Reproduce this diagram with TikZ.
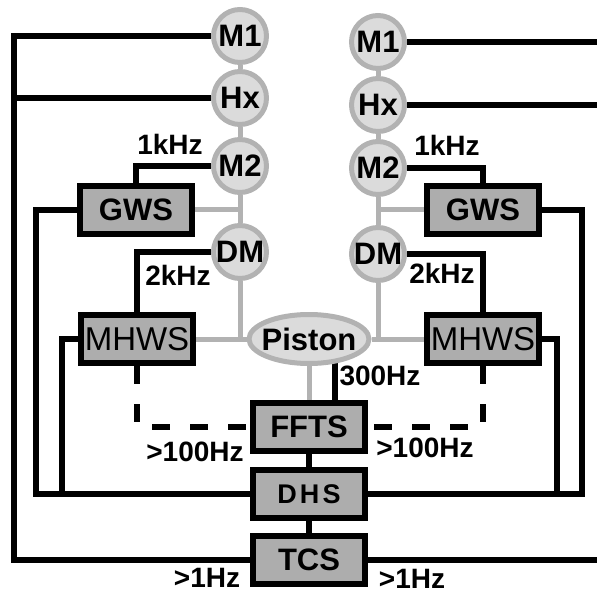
\documentclass[tikz,border=0pt]{standalone}
\usepackage{fontspec}
\setmainfont{Liberation Sans}
\usetikzlibrary{positioning,backgrounds,shapes.geometric}
\definecolor{optline}{gray}{0.70}
\definecolor{optfill}{gray}{0.86}
\definecolor{boxfill}{gray}{0.68}
\tikzset{
  optnode/.style={circle, draw=optline, line width=2.5pt, fill=optfill,
    minimum size=26.5pt, inner sep=0pt, font=\fontsize{15.5}{18}\selectfont\bfseries},
  pistnode/.style={ellipse, draw=optline, line width=2.5pt, fill=optfill,
    minimum width=60pt, minimum height=24.5pt, inner xsep=-5pt, inner ysep=0pt,
    font=\fontsize{15.5}{18}\selectfont\bfseries},
  ctrlbox/.style={draw, line width=3.2pt, fill=boxfill, minimum width=56pt,
    minimum height=24pt, inner sep=0pt, font=\fontsize{15.5}{18}\selectfont\bfseries},
  sigline/.style={line width=3pt},
  beamline/.style={draw=optline, line width=2.5pt},
  ratelabel/.style={font=\fontsize{14}{16}\selectfont\bfseries, inner sep=0pt},
}

\begin{document}
\begin{tikzpicture}[x=0.5pt, y=-0.5pt,
    mhwsfont/.style={font=\fontsize{16.5}{18}\selectfont},
    dhsfont/.style={font=\fontsize{13.5}{16}\selectfont\bfseries\addfontfeature{LetterSpace=12}},
    slowline/.style={sigline, dash pattern=on 9pt off 10pt}]
  \useasboundingbox (0,0) rectangle (597,592);
  % optical train, left and right
  \node[optnode] (m1L) at (240,36) {M1};
  \node[optnode] (hxL) at (240,98) {Hx};
  \node[optnode] (m2L) at (240,166) {M2};
  \node[optnode] (dmL) at (240,252) {DM};
  \node[optnode] (m1R) at (378,42) {M1};
  \node[optnode] (hxR) at (378,105) {Hx};
  \node[optnode] (m2R) at (378,168) {M2};
  \node[optnode] (dmR) at (378,254) {DM};
  \node[pistnode] (piston) at (309,339) {Piston};
  % sensors and controllers
  \node[ctrlbox] (gwsL) at (136,210) {GWS};
  \node[ctrlbox] (gwsR) at (483,210) {GWS};
  \node[ctrlbox, mhwsfont] (mhwsL) at (137,339) {MHWS};
  \node[ctrlbox, mhwsfont] (mhwsR) at (483,339) {MHWS};
  \node[ctrlbox] (ffts) at (309,427) {FFTS};
  \node[ctrlbox, dhsfont] (dhs) at (309,494) {DHS};
  \node[ctrlbox] (tcs) at (309,560) {TCS};
  % corner points of the loops
  \coordinate (outerL) at (14,560);
  \coordinate (busL) at (36,494);
  \coordinate (tapL) at (62,494);
  \coordinate (busR) at (582,494);
  \coordinate (tapR) at (557,494);
  \coordinate (edgeR) at (597,0);
  \coordinate (p300) at (335,361);
  % rates
  \node[ratelabel] (k1L) at (170,144) {1kHz};
  \node[ratelabel] (k1R) at (447,145) {1kHz};
  \node[ratelabel] (k2L) at (178,275) {2kHz};
  \node[ratelabel] (k2R) at (442,273) {2kHz};
  \node[ratelabel] (h300) at (380,376) {300Hz};
  \node[ratelabel] (h100L) at (195,452) {>100Hz};
  \node[ratelabel] (h100R) at (425,448) {>100Hz};
  \node[ratelabel] (h1L) at (207,578) {>1Hz};
  \node[ratelabel] (h1R) at (412,579) {>1Hz};
  \begin{scope}[on background layer]
    % beam path
    \draw[beamline] (m1L) -- (hxL) -- (m2L) -- (dmL);
    \draw[beamline] (m1R) -- (hxR) -- (m2R) -- (dmR);
    \draw[beamline] (dmL.south) -- (dmL.south |- piston.west);
    \draw[beamline] (dmR.south) -- (dmR.south |- piston.east);
    \draw[beamline] (mhwsL.east) -- (piston.west);
    \draw[beamline] (piston.east) -- (mhwsR.west);
    \draw[beamline] (gwsL.east) -- (gwsL.east -| m2L);
    \draw[beamline] (gwsR.west) -- (gwsR.west -| m2R);
    \draw[beamline] (piston.south) -- (ffts.north);
    % control loops
    \draw[sigline] (m1L.west) -| (outerL) -- (tcs.west);
    \draw[sigline] (hxL.west) -- (hxL.west -| outerL);
    \draw[sigline] (m1R.east) -- (m1R.east -| edgeR);
    \draw[sigline] (hxR.east) -- (hxR.east -| edgeR);
    \draw[sigline] (tcs.east) -- (tcs.east -| edgeR);
    \draw[sigline] (m2L.west) -| (gwsL.north);
    \draw[sigline] (m2R.east) -| (gwsR.north);
    \draw[sigline] (dmL.west) -| (mhwsL.north);
    \draw[sigline] (dmR.east) -| (mhwsR.north);
    \draw[sigline] (gwsL.west) -| (busL) -- (dhs.west);
    \draw[sigline] (mhwsL.west) -| (tapL);
    \draw[sigline] (gwsR.east) -| (busR) -- (dhs.east);
    \draw[sigline] (mhwsR.east) -| (tapR);
    \draw[slowline] (mhwsL.south) |- (ffts.west);
    \draw[slowline] (mhwsR.south) |- (ffts.east);
    \draw[sigline] (p300) -- (p300 |- ffts.north);
    \draw[sigline] (ffts) -- (dhs);
    \draw[sigline] (dhs) -- (tcs);
  \end{scope}
\end{tikzpicture}
\end{document}
